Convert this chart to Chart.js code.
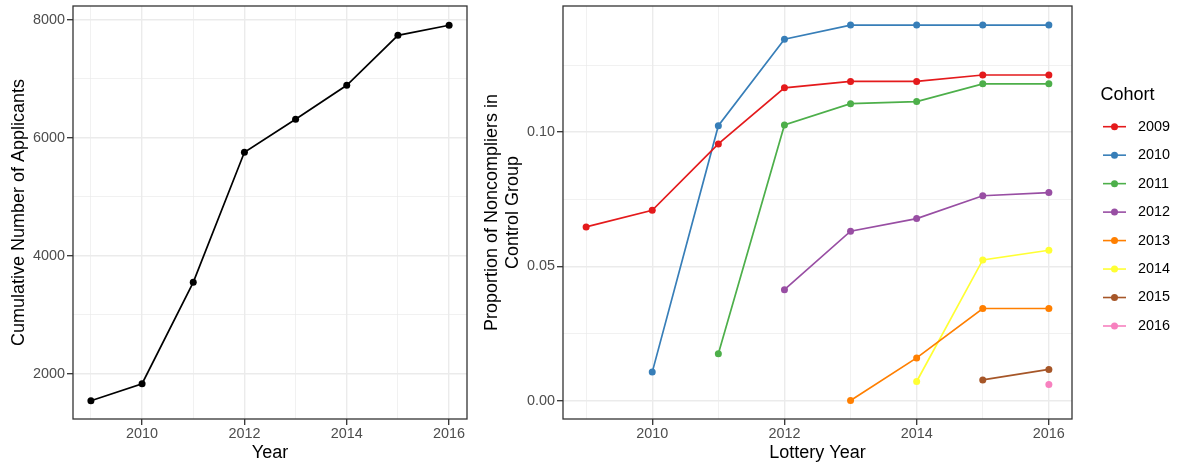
<!DOCTYPE html>
<html>
<head>
<meta charset="utf-8">
<script src="https://cdn.jsdelivr.net/npm/chart.js@4/dist/chart.umd.min.js"></script>
<style>
  html, body { margin: 0; padding: 0; background: #ffffff; }
  #wrap { position: relative; width: 1177px; height: 468px; overflow: hidden; background: #ffffff; }
  #wrap canvas { position: absolute; top: 0; }
</style>
</head>
<body>
<div id="wrap">
  <canvas id="applicantsChart" width="480" height="468" style="left:0;width:480px;height:468px"></canvas>
  <canvas id="noncomplierChart" width="707" height="468" style="left:470px;width:707px;height:468px"></canvas>
</div>
<script>
// ---- data ----
const years = [2009, 2010, 2011, 2012, 2013, 2014, 2015, 2016];
const applicants = [1542, 1830, 3550, 5756, 6315, 6892, 7740, 7910];

const cohortLabels = ['2009', '2010', '2011', '2012', '2013', '2014', '2015', '2016'];
const cohort2009 = [0.0647, 0.0709, 0.0956, 0.1165, 0.1189, 0.1189, 0.1213, 0.1213];
const cohort2010 = [null, 0.0106, 0.1024, 0.1346, 0.1399, 0.1399, 0.1399, 0.1399];
const cohort2011 = [null, null, 0.0174, 0.1027, 0.1106, 0.1114, 0.1180, 0.1180];
const cohort2012 = [null, null, null, 0.0413, 0.0631, 0.0678, 0.0763, 0.0775];
const cohort2013 = [null, null, null, null, 0.0000, 0.0159, 0.0343, 0.0343];
const cohort2014 = [null, null, null, null, null, 0.0071, 0.0524, 0.0560];
const cohort2015 = [null, null, null, null, null, null, 0.0077, 0.0116];
const cohort2016 = [null, null, null, null, null, null, null, 0.0060];
const cohortSeries = [cohort2009, cohort2010, cohort2011, cohort2012, cohort2013, cohort2014, cohort2015, cohort2016];
const cohortColors = ['#E41A1C', '#377EB8', '#4DAF4A', '#984EA3', '#FF7F00', '#FFFF33', '#A65628', '#F781BF'];

// ---- tick positions (major ticks carry labels, minor ticks only a grid line) ----
const yearTicks = [2009, 2010, 2011, 2012, 2013, 2014, 2015, 2016];
const yearMajor = [2010, 2012, 2014, 2016];
const applicantTicks = [2000, 3000, 4000, 5000, 6000, 7000, 8000];
const applicantMajor = [2000, 4000, 6000, 8000];
const shareTicks = [0, 0.025, 0.05, 0.075, 0.1, 0.125];
const shareMajor = [0, 0.05, 0.1];

// ---- styling ----
const FONT = '"Liberation Sans", Arial, Helvetica, sans-serif';
const TICK_FONT = { family: FONT, size: 14.4, lineHeight: 1.2 };
const TITLE_FONT = { family: FONT, size: 18, lineHeight: 1.12 };
const GRID = '#EBEBEB';
const INK = '#333333';

function toPoints(values) {
  const pts = [];
  values.forEach((v, i) => { if (v !== null) pts.push({ x: years[i], y: v }); });
  return pts;
}

function axis(values, majors, fmt, opts) {
  const isMajor = v => majors.some(m => Math.abs(m - v) < 1e-9);
  return {
    type: 'linear',
    min: opts.min,
    max: opts.max,
    afterBuildTicks: s => { s.ticks = values.map(v => ({ value: v })); },
    afterFit: s => {
      if (opts.width !== undefined) s.width = opts.width;
      if (opts.height !== undefined) s.height = opts.height;
      // the panel keeps its own fixed margins
      s.paddingTop = 0; s.paddingBottom = 0; s.paddingLeft = 0; s.paddingRight = 0;
    },
    border: { display: false },
    grid: {
      color: GRID,
      lineWidth: c => (c.tick && isMajor(c.tick.value)) ? 1.4 : 0.7,
      drawTicks: true,
      tickLength: 6,
      tickWidth: 1.3,
      tickColor: c => (c.tick && isMajor(c.tick.value)) ? INK : 'rgba(0,0,0,0)'
    },
    ticks: {
      autoSkip: false,
      maxRotation: 0,
      minRotation: 0,
      padding: opts.tickPad,
      color: '#4D4D4D',
      font: TICK_FONT,
      callback: v => isMajor(v) ? fmt(v) : ''
    },
    title: {
      display: true,
      text: opts.title,
      color: '#000000',
      font: TITLE_FONT,
      padding: opts.titlePad
    }
  };
}

// border drawn around the plotting panel, on top of the data
const panelBorder = {
  id: 'panelBorder',
  afterDatasetsDraw(chart) {
    const { ctx, chartArea: a } = chart;
    ctx.save();
    ctx.strokeStyle = INK;
    ctx.lineWidth = 1.3;
    ctx.strokeRect(a.left, a.top, a.right - a.left, a.bottom - a.top);
    ctx.restore();
  }
};

// legend with a line-and-point key for each cohort
const cohortLegend = {
  id: 'cohortLegend',
  afterDraw(chart) {
    const { ctx, chartArea: a } = chart;
    const keyLeft = a.right + 31;
    const keyLen = 23;
    const labelLeft = a.right + 66;
    const firstRow = 126.7;
    const rowStep = 28.47;
    ctx.save();
    ctx.textAlign = 'left';
    ctx.textBaseline = 'middle';
    ctx.fillStyle = '#000000';
    ctx.font = '18px ' + FONT;
    ctx.fillText('Cohort', a.right + 28.5, 95);
    ctx.font = '14.4px ' + FONT;
    chart.data.datasets.forEach((ds, i) => {
      const y = firstRow + i * rowStep;
      ctx.strokeStyle = ds.borderColor;
      ctx.lineWidth = 1.6;
      ctx.beginPath();
      ctx.moveTo(keyLeft, y);
      ctx.lineTo(keyLeft + keyLen, y);
      ctx.stroke();
      ctx.fillStyle = ds.borderColor;
      ctx.beginPath();
      ctx.arc(keyLeft + keyLen / 2, y, 3.5, 0, Math.PI * 2);
      ctx.fill();
      ctx.fillStyle = '#000000';
      ctx.fillText(ds.label, labelLeft, y);
    });
    ctx.restore();
  }
};

const lineStyle = {
  borderWidth: 1.7,
  pointRadius: 3.5,
  pointHoverRadius: 3.5,
  pointBorderWidth: 0,
  tension: 0,
  spanGaps: false,
  clip: false
};

// ---- left panel: cumulative applicants ----
new Chart(document.getElementById('applicantsChart'), {
  type: 'line',
  data: {
    datasets: [Object.assign({
      label: 'Applicants',
      data: toPoints(applicants),
      borderColor: '#000000',
      backgroundColor: '#000000',
      pointBackgroundColor: '#000000'
    }, lineStyle)]
  },
  options: {
    responsive: false,
    devicePixelRatio: 1,
    animation: false,
    layout: { padding: { left: 0, right: 13, top: 6, bottom: 0 } },
    plugins: { legend: { display: false }, tooltip: { enabled: false } },
    scales: {
      x: axis(yearTicks, yearMajor, v => String(v), {
        min: 2008.65, max: 2016.35, height: 49, tickPad: 0,
        title: 'Year', titlePad: { top: 0, bottom: 4.7 }
      }),
      y: axis(applicantTicks, applicantMajor, v => String(v), {
        min: 1232, max: 8237, width: 73, tickPad: 2,
        title: 'Cumulative Number of Applicants', titlePad: { top: 8.9, bottom: 0 }
      })
    }
  },
  plugins: [panelBorder]
});

// ---- right panel: noncomplier share by cohort ----
new Chart(document.getElementById('noncomplierChart'), {
  type: 'line',
  data: {
    datasets: cohortSeries.map((vals, i) => Object.assign({
      label: cohortLabels[i],
      data: toPoints(vals),
      borderColor: cohortColors[i],
      backgroundColor: cohortColors[i],
      pointBackgroundColor: cohortColors[i]
    }, lineStyle))
  },
  options: {
    responsive: false,
    devicePixelRatio: 1,
    animation: false,
    layout: { padding: { left: 0, right: 105, top: 6, bottom: 0 } },
    plugins: { legend: { display: false }, tooltip: { enabled: false } },
    scales: {
      x: axis(yearTicks, yearMajor, v => String(v), {
        min: 2008.65, max: 2016.35, height: 49, tickPad: 0,
        title: 'Lottery Year', titlePad: { top: 0, bottom: 4.7 }
      }),
      y: axis(shareTicks, shareMajor, v => v.toFixed(2), {
        min: -0.00687, max: 0.1470, width: 93, tickPad: 2,
        title: ['Proportion of Noncompliers in', 'Control Group'], titlePad: { top: 12.4, bottom: 0 }
      })
    }
  },
  plugins: [panelBorder, cohortLegend]
});
</script>
</body>
</html>
